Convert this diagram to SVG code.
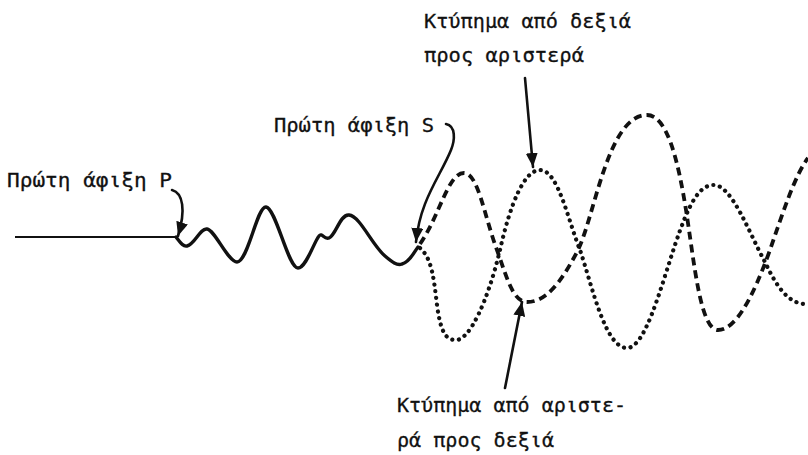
<svg xmlns="http://www.w3.org/2000/svg" width="808" height="455" viewBox="0 0 808 455">
<style>
  text { font-family: "DejaVu Sans Mono", "Liberation Mono", monospace; font-size: 20px; fill: #111; stroke: #111; stroke-width: 0.3; }
  .solid { fill: none; stroke: #111; stroke-width: 3.4; stroke-linejoin: round; stroke-linecap: round; }
  .thin { fill: none; stroke: #111; stroke-width: 1.8; }
  .dash { fill: none; stroke: #111; stroke-width: 3.8; stroke-dasharray: 8 5; }
  .dot { fill: none; stroke: #111; stroke-width: 4.2; stroke-linecap: round; stroke-dasharray: 0.1 6.6; }
  .arrow { fill: none; stroke: #111; stroke-width: 2.6; stroke-linecap: round; marker-end: url(#ah); }
</style>
<defs>
  <marker id="ah" markerUnits="userSpaceOnUse" markerWidth="16" markerHeight="12" refX="14" refY="6" orient="auto">
    <path d="M0,0 L14,6 L0,12 Z" fill="#111"/>
  </marker>
</defs>
<rect width="808" height="455" fill="#fff"/>
<g id="waves">
  <path id="baseline" class="thin" d="M15,237 L176,237"/>
  <path id="p-wave" class="solid" d="M176,237 C180,242 183,247 187,246 C195,244 200,228 207,229 C215,230 228,262 237,262 C248,262 257,206 266,207 C276,208 288,268 298,268 C306,268 314,242 319,236 C322,232 324,240 329,238 C336,235 340,214 349,215 C360,216 372,245 385,256 C392,262 397,266 402,264 C410,262 414,252 418,247"/>
  <path id="dashed-wave" class="dash" d="M420,244 C440,215 448,173 464,173 C478,173 484,215 497,250 C507,278 513,302 527,302 C545,302 560,285 578,250 C595,215 608,115 647,115 C667,115 678,160 686,210 C694,260 700,330 718,330 C735,330 752,300 770,250 C782,215 795,175 808,158"/>
  <path id="dotted-wave" class="dot" d="M420,248 C432,258 434,280 437,305 C441,335 447,340 456,340 C470,340 488,300 500,250 C510,205 524,170 540,170 C558,170 568,220 580,250 C592,285 605,348 627,348 C645,348 660,290 675,245 C690,200 700,185 714,185 C732,185 750,235 765,262 C778,290 790,304 806,304"/>
</g>
<g id="connectors">
  <path class="arrow" d="M172,190 C183,193 186,210 178,236"/>
  <path class="arrow" d="M446,124 C456,126 455,140 451,150 C440,177 420,200 416,242"/>
  <path class="arrow" d="M525,78 L533,167"/>
  <path class="arrow" d="M505,388 L522,302"/>
</g>
<g id="label-p"><text x="7" y="187" textLength="165" lengthAdjust="spacingAndGlyphs">Πρώτη άφιξη P</text></g>
<g id="label-s"><text x="274" y="132" textLength="160" lengthAdjust="spacingAndGlyphs">Πρώτη άφιξη S</text></g>
<g id="label-rl">
  <text x="424" y="28" textLength="207" lengthAdjust="spacingAndGlyphs">Κτύπημα από δεξιά</text>
  <text x="424" y="62" textLength="160" lengthAdjust="spacingAndGlyphs">προς αριστερά</text>
</g>
<g id="label-lr">
  <text x="397" y="412" textLength="229" lengthAdjust="spacingAndGlyphs">Κτύπημα από αριστε-</text>
  <text x="397" y="447" textLength="157" lengthAdjust="spacingAndGlyphs">ρά προς δεξιά</text>
</g>
</svg>
